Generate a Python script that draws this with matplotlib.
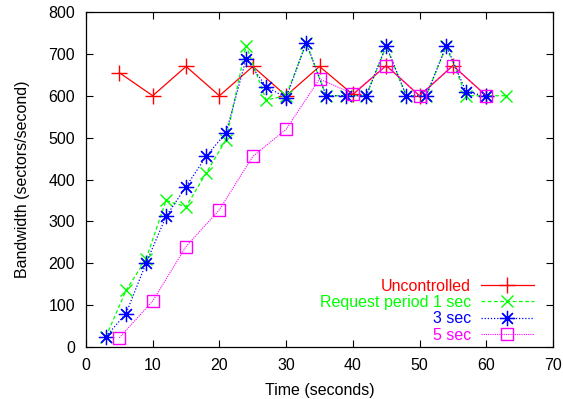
import matplotlib
matplotlib.use("Agg")
import matplotlib.pyplot as plt

plt.rcParams['font.family'] = ['Liberation Sans', 'DejaVu Sans']

# Data
t_unc = [5, 10, 15, 20, 25, 30, 35, 40, 45, 50, 55, 60]
bw_unc = [655, 600, 670, 600, 670, 600, 670, 603, 672, 600, 672, 600]

t_1s = [3, 6, 9, 12, 15, 18, 21, 24, 27, 30, 33, 36, 39, 42, 45, 48, 51, 54, 57, 60, 63]
bw_1s = [25, 135, 210, 350, 335, 415, 495, 720, 590, 600, 725, 600, 600, 600, 718, 600, 600, 718, 600, 600, 600]

t_3s = [3, 6, 9, 12, 15, 18, 21, 24, 27, 30, 33, 36, 39, 42, 45, 48, 51, 54, 57, 60]
bw_3s = [25, 80, 200, 312, 383, 455, 512, 688, 622, 595, 727, 600, 600, 600, 720, 600, 600, 720, 608, 600]

t_5s = [5, 10, 15, 20, 25, 30, 35, 40, 45, 50, 55, 60]
bw_5s = [22, 110, 240, 328, 455, 520, 640, 605, 672, 600, 672, 600]

labels = ["Uncontrolled", "Request period 1 sec", "3 sec", "5 sec"]
xticks = [0, 10, 20, 30, 40, 50, 60, 70]
yticks = [0, 100, 200, 300, 400, 500, 600, 700, 800]

fig = plt.figure(figsize=(5.63, 3.99), dpi=100)
ax = fig.add_axes([86/563, 52/399, 467/563, 335/399])

ax.plot(t_unc, bw_unc, color='#ff0000', lw=0.9, ls='-', marker='+', ms=11, mew=1.0, label=labels[0])
ax.plot(t_1s, bw_1s, color='#00ff00', lw=0.9, ls=(0, (3, 2)), marker='x', ms=8.5, mew=1.0, label=labels[1])
ax.plot(t_3s, bw_3s, color='#0000ff', lw=0.9, ls=(0, (1, 1.5)), marker=(8, 2, 0), ms=11, mew=0.9, label=labels[2])
ax.plot(t_5s, bw_5s, color='#ff00ff', lw=0.8, ls=(0, (1, 1)), marker='s', ms=9, mew=1.0, mfc='none', label=labels[3])

ax.set_xlim(0, 70)
ax.set_ylim(0, 800)
ax.set_xticks(xticks)
ax.set_yticks(yticks)
ax.tick_params(direction='in', length=5, width=0.8, top=True, right=True, labelsize=11.5, pad=8)
for s in ax.spines.values():
    s.set_linewidth(0.9)

ax.set_xlabel("Time (seconds)", fontsize=11.5, labelpad=7)
ax.set_ylabel("Bandwidth (sectors/second)", fontsize=11.5, labelpad=13)

leg = ax.legend(loc='lower right', bbox_to_anchor=(0.972, -0.006), frameon=False, markerfirst=False,
                fontsize=11.5, handlelength=3.3, handletextpad=0.6, labelspacing=0.08,
                labelcolor='linecolor', borderaxespad=0)

fig.savefig("out.png", dpi=100)
